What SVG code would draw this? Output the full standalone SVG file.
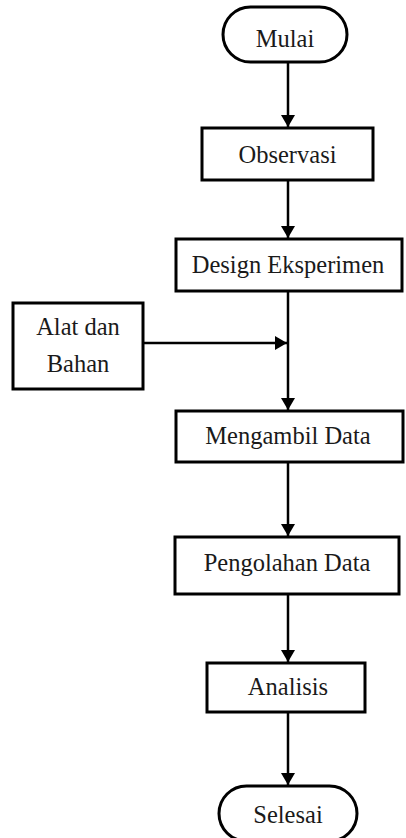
<svg xmlns="http://www.w3.org/2000/svg" width="406" height="838" viewBox="0 0 406 838">
  <style>
    .shape { fill: #ffffff; stroke: #000000; stroke-width: 3; }
    .label { font-family: "Liberation Serif", "Times New Roman", serif; font-size: 24.5px; fill: #1a1a1a; text-anchor: middle; }
    .flow { fill: none; stroke: #000000; stroke-width: 2.5; marker-end: url(#arrow); }
  </style>
  <defs>
    <marker id="arrow" markerUnits="userSpaceOnUse" markerWidth="12" markerHeight="14" viewBox="0 0 12 14" refX="12" refY="7" orient="auto">
      <path d="M0,0 L12,7 L0,14 Z" fill="#000000"/>
    </marker>
  </defs>

  <rect width="406" height="838" fill="#ffffff"/>

  <!-- connectors -->
  <g id="connectors">
    <line class="flow" x1="288" y1="62" x2="288" y2="127"/>
    <line class="flow" x1="288" y1="180" x2="288" y2="238"/>
    <line class="flow" x1="288" y1="291" x2="288" y2="410"/>
    <line class="flow" x1="143" y1="343" x2="287" y2="343"/>
    <line class="flow" x1="288" y1="462" x2="288" y2="536"/>
    <line class="flow" x1="288" y1="594" x2="288" y2="662"/>
    <line class="flow" x1="288" y1="712" x2="288" y2="785"/>
  </g>

  <!-- start -->
  <g id="mulai">
    <rect class="shape" x="223" y="7" width="124" height="55" rx="27.5"/>
    <text class="label" x="285" y="47">Mulai</text>
  </g>

  <g id="observasi">
    <rect class="shape" x="202" y="128" width="171" height="52"/>
    <text class="label" x="287.5" y="163">Observasi</text>
  </g>

  <g id="design-eksperimen">
    <rect class="shape" x="176" y="239" width="226" height="52"/>
    <text class="label" x="288" y="273">Design Eksperimen</text>
  </g>

  <g id="alat-dan-bahan">
    <rect class="shape" x="13" y="303" width="130" height="86"/>
    <text class="label" x="78" y="335">Alat dan</text>
    <text class="label" x="78" y="372">Bahan</text>
  </g>

  <g id="mengambil-data">
    <rect class="shape" x="176" y="411" width="227" height="51"/>
    <text class="label" x="288" y="444">Mengambil Data</text>
  </g>

  <g id="pengolahan-data">
    <rect class="shape" x="175" y="537" width="224" height="57"/>
    <text class="label" x="287" y="571">Pengolahan Data</text>
  </g>

  <g id="analisis">
    <rect class="shape" x="207" y="663" width="158" height="49"/>
    <text class="label" x="288" y="695">Analisis</text>
  </g>

  <!-- end -->
  <g id="selesai">
    <rect class="shape" x="219" y="786" width="138" height="55" rx="27.5"/>
    <text class="label" x="288" y="823">Selesai</text>
  </g>
</svg>
